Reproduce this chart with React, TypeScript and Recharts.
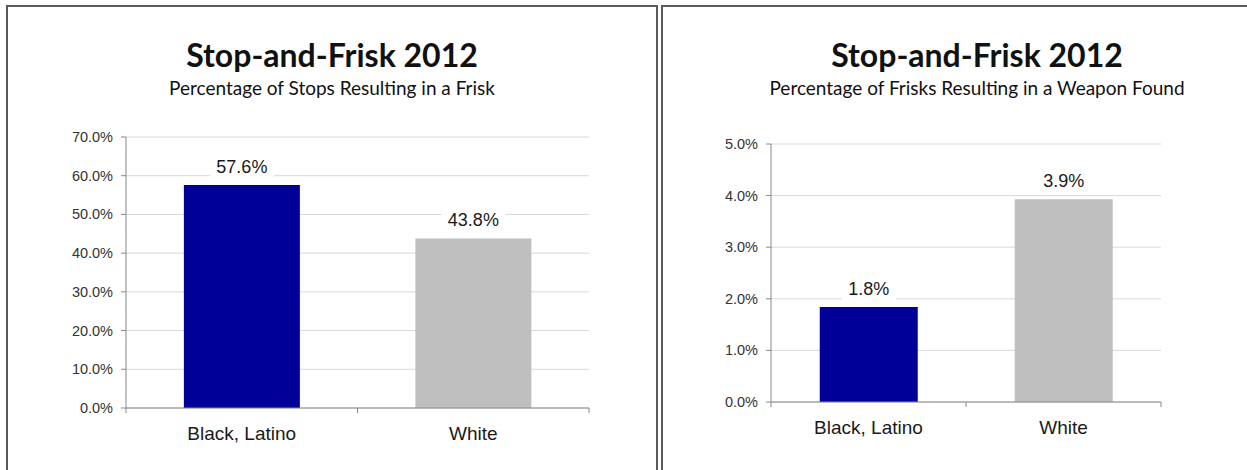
// Stop-and-Frisk 2012 — two side-by-side bar panels

import React from 'react';
import { BarChart, Bar, XAxis, YAxis, CartesianGrid, Cell, LabelList } from 'recharts';

const categories = ['Black, Latino', 'White'];
const friskRate = [57.6, 43.8];
const weaponRate = [1.84, 3.93];
const friskTicks = [0, 10, 20, 30, 40, 50, 60, 70];
const weaponTicks = [0, 1, 2, 3, 4, 5];
const barColors = ['#000099', '#bfbfbf'];

const TICK_SIZE = 5;
const TICK_MARGIN = 3;
const FONT = '"Liberation Sans", Arial, sans-serif';

// Excel-style category axis: tick marks sit between categories, not under them
function CategoryTick(props: any) {
  const { x, y, payload, index, width, visibleTicksCount } = props;
  const half = width / visibleTicksCount / 2;
  const axisY = y - TICK_SIZE - TICK_MARGIN;
  return (
    <g>
      <line x1={x - half} x2={x - half} y1={axisY} y2={axisY + 5} stroke="#888" />
      {index === visibleTicksCount - 1 && (
        <line x1={x + half} x2={x + half} y1={axisY} y2={axisY + 5} stroke="#888" />
      )}
      <text x={x} y={y} dy={24} textAnchor="middle" fontSize={19} fill="#1a1a1a" fontFamily={FONT}>
        {payload.value}
      </text>
    </g>
  );
}

function PercentTick(props: any) {
  const { x, y, payload } = props;
  return (
    <text x={x} y={y} dy={5} textAnchor="end" fontSize={14.5} fill="#333" fontFamily={FONT}>
      {`${Number(payload.value).toFixed(1)}%`}
    </text>
  );
}

// value label with white box behind it (covers the gridline)
function ValueLabel(props: any) {
  const { x, y, width, value } = props;
  const txt = `${Number(value).toFixed(1)}%`;
  const cx = x + width / 2;
  const boxW = txt.length * 10 + 14;
  return (
    <g>
      <rect x={cx - boxW / 2} y={y - 31} width={boxW} height={25} fill="#fff" />
      <text x={cx} y={y - 12} textAnchor="middle" fontSize={18} fill="#1a1a1a" fontFamily={FONT}>
        {txt}
      </text>
    </g>
  );
}

function Panel({ left, width, title, subtitle }: { left: number; width: number; title: string; subtitle: string }) {
  return (
    <div style={{ position: 'absolute', left, top: 5, width, height: 520, border: '2px solid #5a5a5a', boxSizing: 'border-box' }}>
      <svg width={width} height={110} style={{ position: 'absolute', left: -2, top: -2 }}>
        <text x={width / 2} y={62} textAnchor="middle" fontSize={32} fontWeight={700} fontFamily="Lato, sans-serif" fill="#111">
          {title}
        </text>
        <text x={width / 2} y={90} textAnchor="middle" fontSize={19} fontFamily="Lato, sans-serif" fill="#111">
          {subtitle}
        </text>
      </svg>
    </div>
  );
}

function RateChart({ values, ticks, domainMax, width, margin }: any) {
  const data = categories.map((name, i) => ({ name, value: values[i] }));
  return (
    <BarChart width={width} height={470} data={data} margin={margin} barCategoryGap="25%">
      <CartesianGrid vertical={false} stroke="#d9d9d9" />
      <XAxis
        dataKey="name"
        height={30}
        stroke="#888"
        tickLine={false}
        tickSize={TICK_SIZE}
        tickMargin={TICK_MARGIN}
        tick={<CategoryTick />}
        interval={0}
      />
      <YAxis
        width={60}
        domain={[0, domainMax]}
        ticks={ticks}
        stroke="#888"
        tickSize={5}
        tickMargin={8}
        tick={<PercentTick />}
        interval={0}
      />
      <Bar dataKey="value" isAnimationActive={false}>
        {data.map((d, i) => (
          <Cell key={d.name} fill={barColors[i]} />
        ))}
        <LabelList dataKey="value" content={<ValueLabel />} />
      </Bar>
    </BarChart>
  );
}

export default function App() {
  return (
    <div style={{ position: 'absolute', left: 0, top: 0, width: 1247, height: 470, overflow: 'hidden', background: '#fff' }}>
      <Panel left={6} width={652} title="Stop-and-Frisk 2012" subtitle="Percentage of Stops Resulting in a Frisk" />
      <Panel left={661} width={632} title="Stop-and-Frisk 2012" subtitle="Percentage of Frisks Resulting in a Weapon Found" />
      <div style={{ position: 'absolute', left: 0, top: 0 }}>
        <RateChart
          values={friskRate}
          ticks={friskTicks}
          domainMax={70}
          width={660}
          margin={{ top: 137, right: 71, left: 66, bottom: 32 }}
        />
      </div>
      <div style={{ position: 'absolute', left: 660, top: 0 }}>
        <RateChart
          values={weaponRate}
          ticks={weaponTicks}
          domainMax={5}
          width={587}
          margin={{ top: 144, right: 86, left: 51, bottom: 38 }}
        />
      </div>
    </div>
  );
}
